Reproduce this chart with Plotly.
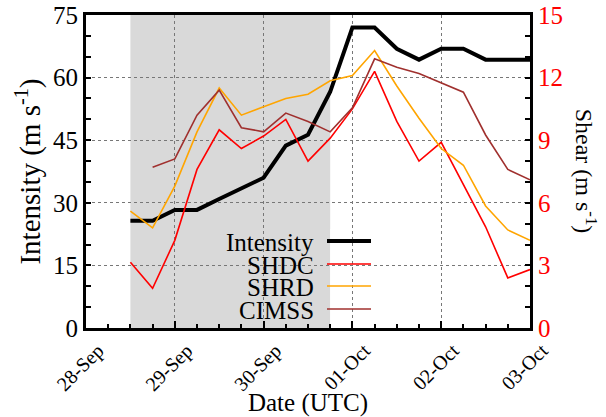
import plotly.graph_objects as go

# 6-hourly analysis times
times = ["2018-09-28 12:00", "2018-09-28 18:00",
         "2018-09-29 00:00", "2018-09-29 06:00", "2018-09-29 12:00", "2018-09-29 18:00",
         "2018-09-30 00:00", "2018-09-30 06:00", "2018-09-30 12:00", "2018-09-30 18:00",
         "2018-10-01 00:00", "2018-10-01 06:00", "2018-10-01 12:00", "2018-10-01 18:00",
         "2018-10-02 00:00", "2018-10-02 06:00", "2018-10-02 12:00", "2018-10-02 18:00",
         "2018-10-03 00:00"]

intensity = [25.7, 25.7, 28.3, 28.3, 30.9, 33.4, 36.0, 43.7, 46.3, 56.6,
             72.0, 72.0, 66.9, 64.3, 66.9, 66.9, 64.3, 64.3, 64.3]
shdc = [3.15, 1.9, 4.2, 7.6, 9.5, 8.6, 9.2, 10.0, 8.0, 9.1,
        10.5, 12.3, 9.9, 8.0, 8.9, 6.9, 4.85, 2.4, 2.8]
shrd = [5.6, 4.8, 6.8, 9.4, 11.5, 10.2, 10.6, 11.0, 11.2, 11.85,
        12.1, 13.3, 11.6, 10.05, 8.6, 7.8, 5.85, 4.7, 4.2]
cimss = [None, 7.7, 8.1, 10.2, 11.4, 9.6, 9.4, 10.3, 9.9, 9.4,
         10.55, 12.9, 12.5, 12.2, 11.75, 11.3, 9.25, 7.6, 7.1]

series_names = ["Intensity", "SHDC", "SHRD", "CIMSS"]
series_colors = ["black", "#ff0000", "#ffa500", "#a0302e"]
series_widths = [4, 1.6, 1.6, 1.6]

shade_start = "2018-09-28 12:00"
shade_end = "2018-09-30 18:00"
x_range = ["2018-09-28", "2018-10-03"]

FONT = "Liberation Serif, DejaVu Serif, serif"

fig = go.Figure()
fig.add_trace(go.Scatter(x=times, y=intensity, mode="lines", name="Intensity",
                         line=dict(color=series_colors[0], width=series_widths[0]),
                         yaxis="y", showlegend=False))
for name, vals, col, w in zip(series_names[1:], [shdc, shrd, cimss],
                              series_colors[1:], series_widths[1:]):
    fig.add_trace(go.Scatter(x=times, y=vals, mode="lines", name=name,
                             line=dict(color=col, width=w), yaxis="y2",
                             showlegend=False))

shapes = [
    dict(type="rect", xref="x", yref="paper", x0=shade_start, x1=shade_end,
         y0=0, y1=1, fillcolor="#d9d9d9", line=dict(width=0), layer="below"),
    # masks hiding grid lines behind the key
    dict(type="rect", xref="paper", yref="paper", x0=0.3356, x1=0.55,
         y0=0, y1=0.316, fillcolor="#d9d9d9", line=dict(width=0), layer="between"),
    dict(type="rect", xref="paper", yref="paper", x0=0.55, x1=0.662,
         y0=0, y1=0.316, fillcolor="white", line=dict(width=0), layer="between"),
]

annotations = []
key_y = [0.278, 0.2045, 0.134, 0.0607]
for name, col, w, ky in zip(series_names, series_colors, series_widths, key_y):
    shapes.append(dict(type="line", xref="paper", yref="paper", x0=0.5428, x1=0.6419,
                       y0=ky, y1=ky, line=dict(color=col, width=w), layer="above"))
    annotations.append(dict(text=name, xref="paper", yref="paper", x=0.5158, y=ky - 0.004,
                            xanchor="right", yanchor="middle", showarrow=False,
                            borderpad=0,
                            font=dict(family=FONT, size=25, color="black")))

annotations.append(dict(text="Shear (m s<sup>-1</sup>)", xref="paper", yref="paper",
                        x=1.128, y=0.5, textangle=90, showarrow=False,
                        xanchor="center", yanchor="middle",
                        font=dict(family=FONT, size=24, color="black")))

fig.update_layout(
    width=606, height=417,
    margin=dict(l=86, r=76, t=15, b=89),
    paper_bgcolor="white", plot_bgcolor="white",
    font=dict(family=FONT, color="black"),
    shapes=shapes, annotations=annotations,
    xaxis=dict(
        type="date", range=x_range, dtick=86400000, tick0="2018-09-28",
        tickformat="%d-%b", tickangle=-45, tickfont=dict(family=FONT, size=20),
        ticks="inside", ticklen=7, tickwidth=2, tickcolor="black",
        ticklabelshift=12, ticklabelstandoff=0,
        minor=dict(dtick=21600000, ticks="inside", ticklen=4, tickwidth=1.5,
                   tickcolor="black", showgrid=False),
        showgrid=True, gridcolor="#777777", griddash="dot", gridwidth=1,
        showline=True, linewidth=3, linecolor="black", mirror=True,
        title=dict(text="Date (UTC)", font=dict(family=FONT, size=25), standoff=4),
        zeroline=False, automargin=False,
    ),
    yaxis=dict(
        range=[0, 75], dtick=15, tick0=0, tickfont=dict(family=FONT, size=25),
        ticks="inside", ticklen=5, tickwidth=2, tickcolor="black",
        minor=dict(dtick=5, ticks="inside", ticklen=5, tickwidth=2,
                   tickcolor="black", showgrid=False),
        showgrid=True, gridcolor="#777777", griddash="dot", gridwidth=1,
        showline=True, linewidth=3, linecolor="black", mirror=True,
        title=dict(text="Intensity (m s<sup>-1</sup>)", font=dict(family=FONT, size=29), standoff=4),
        zeroline=False, automargin=False,
    ),
    yaxis2=dict(
        overlaying="y", side="right", range=[0, 15], dtick=3, tick0=0,
        tickfont=dict(family=FONT, size=25, color="#ff0000"),
        ticks="inside", ticklen=5, tickwidth=2, tickcolor="black",
        minor=dict(dtick=1, ticks="inside", ticklen=5, tickwidth=2,
                   tickcolor="black", showgrid=False),
        showgrid=False, showline=True, linewidth=3, linecolor="black",
        zeroline=False, automargin=False,
    ),
)

fig.write_html("out.html")
